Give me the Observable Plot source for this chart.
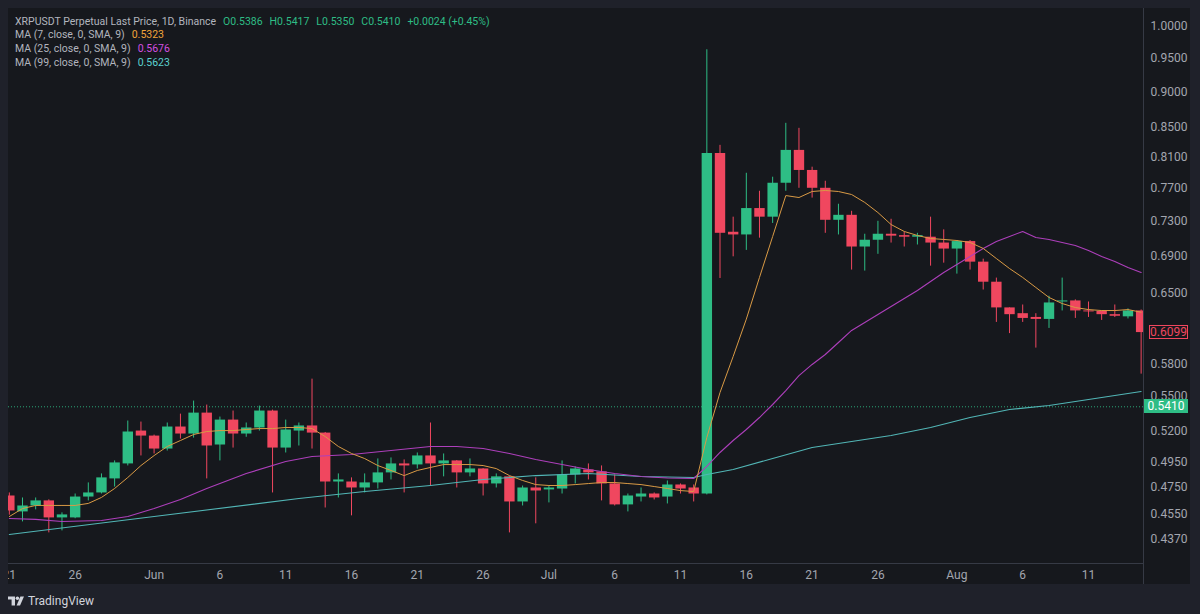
<!DOCTYPE html>
<html><head><meta charset="utf-8">
<script src="https://cdn.jsdelivr.net/npm/d3@7"></script>
<script src="https://cdn.jsdelivr.net/npm/@observablehq/plot@0.6"></script>
<style>
html,body{margin:0;padding:0;background:#1f212a;width:1200px;height:614px;overflow:hidden;font-family:Roboto,"Noto Sans",sans-serif;}
#pane{position:absolute;left:8px;top:8px;width:1182px;height:576px;background:#16181d;overflow:hidden;}
#chart{position:absolute;left:0;top:0;}
.sep{position:absolute;background:#363a45;}
.lg{position:absolute;left:15px;font-size:10.5px;line-height:14px;color:#b2b5be;white-space:pre;}
.lg span{margin-left:7px;}
.tag{position:absolute;font-size:12px;line-height:12px;box-sizing:border-box;text-align:center;font-family:Roboto,sans-serif;}
#footer{position:absolute;left:8px;top:593px;height:16px;display:flex;align-items:center;color:#d1d4dc;font-size:12px;}
</style></head>
<body>
<div id="pane"><div id="chart"></div></div>
<div class="sep" style="left:1143px;top:8px;width:1px;height:576px"></div>
<div class="sep" style="left:8px;top:563px;width:1135px;height:1px"></div>
<div id="legend"></div>
<div id="tags"></div>
<div id="footer"><svg width="16" height="10" viewBox="0 0 16 10" style="margin-right:4px"><path d="M0 0.5H7V9.5H3.6V3.6H0Z" fill="#d1d4dc"/><circle cx="9.4" cy="2.2" r="1.8" fill="#d1d4dc"/><path d="M12.4 0.5H16L12 9.5H8.6Z" fill="#d1d4dc"/></svg><span>TradingView</span></div>
<script>
// ---- data ----
const dates = ["2023-05-21","2023-05-22","2023-05-23","2023-05-24","2023-05-25","2023-05-26","2023-05-27","2023-05-28","2023-05-29","2023-05-30",
"2023-05-31","2023-06-01","2023-06-02","2023-06-03","2023-06-04","2023-06-05","2023-06-06","2023-06-07","2023-06-08","2023-06-09",
"2023-06-10","2023-06-11","2023-06-12","2023-06-13","2023-06-14","2023-06-15","2023-06-16","2023-06-17","2023-06-18","2023-06-19",
"2023-06-20","2023-06-21","2023-06-22","2023-06-23","2023-06-24","2023-06-25","2023-06-26","2023-06-27","2023-06-28","2023-06-29",
"2023-06-30","2023-07-01","2023-07-02","2023-07-03","2023-07-04","2023-07-05","2023-07-06","2023-07-07","2023-07-08","2023-07-09",
"2023-07-10","2023-07-11","2023-07-12","2023-07-13","2023-07-14","2023-07-15","2023-07-16","2023-07-17","2023-07-18","2023-07-19",
"2023-07-20","2023-07-21","2023-07-22","2023-07-23","2023-07-24","2023-07-25","2023-07-26","2023-07-27","2023-07-28","2023-07-29",
"2023-07-30","2023-07-31","2023-08-01","2023-08-02","2023-08-03","2023-08-04","2023-08-05","2023-08-06","2023-08-07","2023-08-08",
"2023-08-09","2023-08-10","2023-08-11","2023-08-12","2023-08-13","2023-08-14","2023-08-15"];
const open = [0.4684,0.4565,0.4609,0.4647,0.4521,0.4521,0.4676,0.4707,0.4815,0.4933,
0.5202,0.5160,0.5053,0.5236,0.5177,0.5355,0.5086,0.5295,0.5177,0.5228,
0.5373,0.5061,0.5202,0.5245,0.5185,0.4791,0.4791,0.4745,0.4784,0.4862,
0.4933,0.4925,0.4997,0.4933,0.4957,0.4862,0.4893,0.4776,0.4831,0.4639,
0.4745,0.4730,0.4737,0.4846,0.4885,0.4870,0.4776,0.4617,0.4676,0.4699,
0.4676,0.4768,0.4745,0.4699,0.8145,0.7172,0.7141,0.7452,0.7349,0.7763,
0.8186,0.7925,0.7700,0.7312,0.7371,0.7003,0.7080,0.7149,0.7133,0.7115,
0.7115,0.7048,0.6980,0.7065,0.6834,0.6616,0.6347,0.6288,0.6250,0.6230,
0.6408,0.6419,0.6316,0.6310,0.6278,0.6256,0.6316];
const high = [0.4707,0.4669,0.4669,0.4655,0.4558,0.4699,0.4784,0.4854,0.4957,0.5287,
0.5278,0.5168,0.5270,0.5346,0.5460,0.5425,0.5321,0.5373,0.5270,0.5416,
0.5381,0.5295,0.5270,0.5657,0.5190,0.4854,0.4823,0.4854,0.4973,0.4981,
0.4965,0.5021,0.5270,0.5013,0.4960,0.4973,0.4896,0.4854,0.4834,0.4760,
0.4823,0.4760,0.4957,0.4909,0.4933,0.4917,0.4846,0.4699,0.4745,0.4707,
0.4799,0.4776,0.4768,0.9631,0.8253,0.7349,0.7889,0.7663,0.7839,0.8552,
0.8483,0.7967,0.7788,0.7504,0.7419,0.7149,0.7300,0.7324,0.7172,0.7160,
0.7349,0.7200,0.7077,0.7077,0.6867,0.6660,0.6347,0.6377,0.6288,0.6468,
0.6660,0.6430,0.6408,0.6316,0.6377,0.6337,0.6326];
const low = [0.4541,0.4492,0.4580,0.4413,0.4427,0.4515,0.4647,0.4699,0.4752,0.4917,
0.4997,0.5013,0.5037,0.5135,0.5143,0.4815,0.4957,0.5061,0.5150,0.5202,
0.4707,0.5021,0.5078,0.5053,0.4594,0.4669,0.4536,0.4707,0.4737,0.4807,
0.4707,0.4893,0.4760,0.4831,0.4745,0.4831,0.4684,0.4745,0.4413,0.4609,
0.4478,0.4632,0.4699,0.4776,0.4807,0.4647,0.4609,0.4565,0.4639,0.4654,
0.4624,0.4699,0.4639,0.4692,0.6656,0.6893,0.6965,0.7104,0.7275,0.7663,
0.7700,0.7579,0.7160,0.7141,0.6747,0.6736,0.6921,0.7048,0.7003,0.7026,
0.6790,0.6823,0.6703,0.6747,0.6533,0.6200,0.6089,0.6200,0.5948,0.6140,
0.6316,0.6240,0.6250,0.6220,0.6250,0.6235,0.5703];
const close = [0.4572,0.4609,0.4647,0.4521,0.4543,0.4676,0.4707,0.4823,0.4941,0.5194,
0.5160,0.5053,0.5236,0.5177,0.5355,0.5078,0.5295,0.5177,0.5228,0.5373,
0.5061,0.5211,0.5245,0.5185,0.4791,0.4807,0.4745,0.4784,0.4862,0.4933,
0.4917,0.4997,0.4933,0.4957,0.4862,0.4893,0.4776,0.4831,0.4639,0.4745,
0.4722,0.4745,0.4846,0.4893,0.4862,0.4776,0.4617,0.4684,0.4699,0.4669,
0.4768,0.4737,0.4699,0.8145,0.7160,0.7141,0.7452,0.7349,0.7763,0.8186,
0.7925,0.7700,0.7312,0.7371,0.7003,0.7080,0.7149,0.7127,0.7115,0.7133,
0.7048,0.6980,0.7065,0.6834,0.6616,0.6347,0.6278,0.6240,0.6230,0.6398,
0.6419,0.6316,0.6306,0.6278,0.6262,0.6316,0.6099];
// MA(7) read per day
const ma7Values = [0.4531,0.4590,0.4613,0.4613,0.4613,0.4613,0.4628,0.4673,0.4741,0.4826,
0.4920,0.5000,0.5074,0.5123,0.5173,0.5198,0.5206,0.5206,0.5215,0.5223,
0.5223,0.5232,0.5232,0.5223,0.5156,0.5074,0.5017,0.4976,0.4920,0.4881,
0.4841,0.4881,0.4905,0.4928,0.4928,0.4928,0.4920,0.4896,0.4841,0.4803,
0.4771,0.4764,0.4764,0.4771,0.4779,0.4787,0.4787,0.4779,0.4771,0.4756,
0.4741,0.4725,0.4718,0.5148,0.5536,0.5868,0.6233,0.6667,0.7123,0.7610,
0.7586,0.7660,0.7673,0.7660,0.7623,0.7526,0.7404,0.7262,0.7181,0.7135,
0.7100,0.7089,0.7077,0.7055,0.6987,0.6874,0.6764,0.6667,0.6560,0.6455,
0.6392,0.6351,0.6330,0.6320,0.6320,0.6330,0.6303];
// MA(25) read at selected days
const ma25Dates = ["2023-05-21","2023-05-23","2023-05-25","2023-05-28","2023-05-30","2023-06-01","2023-06-03","2023-06-05","2023-06-08","2023-06-11",
"2023-06-13","2023-06-16","2023-06-19","2023-06-22","2023-06-24","2023-06-26","2023-06-28","2023-06-30","2023-07-02","2023-07-04",
"2023-07-06","2023-07-08","2023-07-10","2023-07-12","2023-07-13","2023-07-14","2023-07-15","2023-07-16","2023-07-17","2023-07-18",
"2023-07-19","2023-07-20","2023-07-21","2023-07-22","2023-07-23","2023-07-24","2023-07-25","2023-07-26","2023-07-27","2023-07-28",
"2023-07-29","2023-07-30","2023-07-31","2023-08-01","2023-08-02","2023-08-03","2023-08-04","2023-08-05","2023-08-06","2023-08-07",
"2023-08-08","2023-08-09","2023-08-10","2023-08-11","2023-08-12","2023-08-13","2023-08-14","2023-08-15"];
const ma25Values = [0.4517,0.4510,0.4495,0.4502,0.4531,0.4590,0.4657,0.4741,0.4857,0.4952,
0.4992,0.5009,0.5041,0.5074,0.5074,0.5057,0.5017,0.4968,0.4928,0.4889,
0.4857,0.4834,0.4822,0.4818,0.4913,0.5025,0.5123,0.5215,0.5317,0.5430,
0.5554,0.5690,0.5793,0.5887,0.6002,0.6120,0.6199,0.6280,0.6362,0.6444,
0.6528,0.6624,0.6721,0.6808,0.6897,0.6987,0.7066,0.7123,0.7181,0.7111,
0.7089,0.7055,0.7020,0.6964,0.6897,0.6842,0.6776,0.6721];
// MA(99) read at selected days
const ma99Dates = ["2023-05-21","2023-06-01","2023-06-12","2023-06-17","2023-06-22","2023-06-26","2023-06-30","2023-07-04","2023-07-08","2023-07-12",
"2023-07-13","2023-07-15","2023-07-18","2023-07-21","2023-07-24","2023-07-27","2023-07-30","2023-08-02","2023-08-05","2023-08-08",
"2023-08-11","2023-08-15"];
const ma99Values = [0.4401,0.4531,0.4665,0.4718,0.4764,0.4810,0.4841,0.4857,0.4834,0.4826,
0.4849,0.4889,0.4976,0.5066,0.5115,0.5165,0.5232,0.5317,0.5386,0.5421,
0.5474,0.5545];
const xTickDates = ["2023-05-21","2023-05-26","2023-06-01","2023-06-06","2023-06-11","2023-06-16","2023-06-21","2023-06-26","2023-07-01","2023-07-06","2023-07-11","2023-07-16","2023-07-21","2023-07-26","2023-08-01","2023-08-06","2023-08-11"];
const yTickValues = [1.0, 0.95, 0.9, 0.85, 0.81, 0.77, 0.73, 0.69, 0.65, 0.58, 0.55, 0.52, 0.495, 0.475, 0.455, 0.437];
const lastPrice = 0.5410;
const lastCandleClose = 0.6099;
const legendOHLC = [["O","0.5386"],["H","0.5417"],["L","0.5350"],["C","0.5410"]];
const legendChange = "+0.0024 (+0.45%)";
const maLegend = [["MA (7, close, 0, SMA, 9)","0.5323"],["MA (25, close, 0, SMA, 9)","0.5676"],["MA (99, close, 0, SMA, 9)","0.5623"]];

// ---- build ----
const parse = d3.utcParse("%Y-%m-%d");
const candles = dates.map((d,i)=>({date: parse(d), open: open[i], high: high[i], low: low[i], close: close[i]}));
const ups = candles.filter(d => d.close >= d.open);
const downs = candles.filter(d => d.close < d.open);
const ma7 = dates.map((d,i)=>({date: parse(d), v: ma7Values[i]}));
const ma25 = ma25Dates.map((d,i)=>({date: parse(d), v: ma25Values[i]}));
const ma99 = ma99Dates.map((d,i)=>({date: parse(d), v: ma99Values[i]}));
const UP = "#2ebd85", DOWN = "#f0475f";
const MA7C = "#d99a45", MA25C = "#ad3fbb", MA99C = "#52b6b6";
const monthFmt = d3.utcFormat("%b");

const chart = Plot.plot({
  width: 1182, height: 576,
  marginLeft: 0, marginRight: 47, marginTop: 0, marginBottom: 21,
  style: {background: "transparent", color: "#a3a6af", fontFamily: "Roboto, sans-serif", fontSize: "12px", overflow: "hidden"},
  x: {type: "utc", domain: [new Date("2023-05-20T22:28:00Z"), new Date("2023-08-15T04:19:00Z")]},
  y: {type: "log", domain: [0.4200, 1.0295]},
  marks: [
    Plot.ruleY([lastPrice], {stroke: UP, strokeDasharray: "1,2", strokeOpacity: 0.85}),
    Plot.ruleX(ups, {x: "date", y1: "low", y2: "high", stroke: UP, strokeWidth: 1, clip: true}),
    Plot.ruleX(downs, {x: "date", y1: "low", y2: "high", stroke: DOWN, strokeWidth: 1, clip: true}),
    Plot.ruleX(ups, {x: "date", y1: "open", y2: "close", stroke: UP, strokeWidth: 10.4, clip: true}),
    Plot.ruleX(downs, {x: "date", y1: "open", y2: "close", stroke: DOWN, strokeWidth: 10.4, clip: true}),
    Plot.line(ma99, {x: "date", y: "v", stroke: MA99C, strokeWidth: 1.1, clip: true}),
    Plot.line(ma25, {x: "date", y: "v", stroke: MA25C, strokeWidth: 1.1, clip: true}),
    Plot.line(ma7, {x: "date", y: "v", stroke: MA7C, strokeWidth: 1, clip: true}),
    Plot.axisX({ticks: xTickDates.map(parse), tickFormat: d => d.getUTCDate() === 1 ? monthFmt(d) : String(d.getUTCDate()), tickSize: 0, tickPadding: 7, label: null}),
    Plot.axisY({anchor: "right", ticks: yTickValues, tickFormat: d => d.toFixed(4), tickSize: 0, tickPadding: 7, label: null})
  ]
});
document.getElementById("chart").appendChild(chart);

// legend
const lg = document.getElementById("legend");
function row(top, html){ const d = document.createElement("div"); d.className = "lg"; d.style.top = top + "px"; d.innerHTML = html; lg.appendChild(d); }
row(15, "XRPUSDT Perpetual Last Price, 1D, Binance" +
  legendOHLC.map(([k,v]) => `<span style="color:${UP}">${k}${v}</span>`).join("") +
  `<span style="color:${UP}">${legendChange}</span>`);
const maCols = ["#f0a43a", "#d34fe0", "#5bd0cf"];
maLegend.forEach(([t,v],i) => row(28 + i*14, `${t}<span style="color:${maCols[i]}">${v}</span>`));

// price tags on the axis
const ys = chart.scale("y");
const tags = document.getElementById("tags");
function tag(value, left, width, bg, border, color){
  const y = 8 + ys.apply(value);
  const d = document.createElement("div"); d.className = "tag";
  d.style.cssText += `left:${left}px;top:${(y-7).toFixed(1)}px;width:${width}px;height:14px;line-height:12px;background:${bg};border:1px solid ${border};color:${color};`;
  d.textContent = value.toFixed(4);
  tags.appendChild(d);
}
tag(lastCandleClose, 1149, 39, "#16181d", DOWN, DOWN);
tag(lastPrice, 1144, 44, UP, UP, "#ffffff");
</script>
</body></html>
